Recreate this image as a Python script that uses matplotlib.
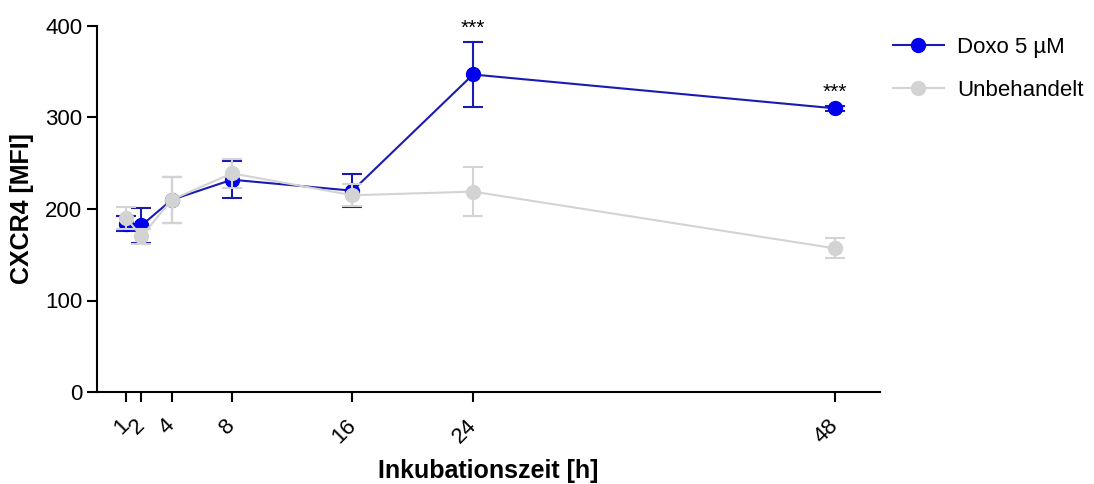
import matplotlib
matplotlib.use("Agg")
import matplotlib.pyplot as plt
from matplotlib.lines import Line2D

plt.rcParams['font.family'] = ['Liberation Sans', 'DejaVu Sans']

hours = [1, 2, 4, 8, 16, 24, 48]
doxo = [184, 182, 210, 232, 220, 347, 310]
doxo_err = [8, 19, 25, 20, 18, 35, 3]
unbeh = [190, 170, 210, 239, 215, 219, 157]
unbeh_err = [12, 8, 25, 16, 12, 27, 11]
tick_labels = ['1', '2', '4', '8', '16', '24', '48']
sig_labels = {24: '***', 48: '***'}

blue_line = '#1a1ab4'
blue_mark = '#0000ee'
gray = '#d3d3d3'

fig = plt.figure(figsize=(10.94, 4.84), dpi=100)
ax = fig.add_axes([97/1094, 92/484, (880-97)/1094, (392-26)/484])

ax.errorbar(hours, doxo, yerr=doxo_err, color=blue_line, lw=1.5,
            marker='o', ms=10, mfc=blue_mark, mec=blue_mark,
            capsize=7, capthick=1.5, elinewidth=1.5, zorder=2)
ax.errorbar(hours, unbeh, yerr=unbeh_err, color=gray, lw=1.5,
            marker='o', ms=10, mfc=gray, mec=gray,
            capsize=7, capthick=1.5, elinewidth=1.5, zorder=3)

for h, s in sig_labels.items():
    i = hours.index(h)
    ax.annotate(s, (h, doxo[i] + doxo_err[i]), xytext=(0, 3), textcoords='offset points',
                ha='center', va='bottom', fontsize=15)

ax.set_xlim(-0.95, 51)
ax.set_ylim(0, 400)
ax.set_yticks([0, 100, 200, 300, 400])
ax.set_xticks(hours)
ax.set_xticklabels(tick_labels, rotation=45, ha='right', va='center', rotation_mode='anchor')
for sp in ['top', 'right']:
    ax.spines[sp].set_visible(False)
for sp in ['left', 'bottom']:
    ax.spines[sp].set_linewidth(1.5)
ax.tick_params(axis='both', width=1.5, length=7, labelsize=16)
ax.tick_params(axis='x', pad=15)

ax.set_ylabel('CXCR4 [MFI]', fontsize=18, fontweight='bold', labelpad=8)
ax.set_xlabel('Inkubationszeit [h]', fontsize=18, fontweight='bold', labelpad=8)

handles = [
    Line2D([], [], color=blue_line, lw=1.5, marker='o', ms=10, mfc=blue_mark, mec=blue_mark),
    Line2D([], [], color=gray, lw=1.5, marker='o', ms=10, mfc=gray, mec=gray),
]
ax.legend(handles, ['Doxo 5 µM', 'Unbehandelt'], loc='upper left',
          bbox_to_anchor=(1.005, 0.995), frameon=False,
          fontsize=16, handlelength=2.3, handletextpad=0.6, labelspacing=1.0, borderaxespad=0)
fig.savefig('out.png', dpi=100)
